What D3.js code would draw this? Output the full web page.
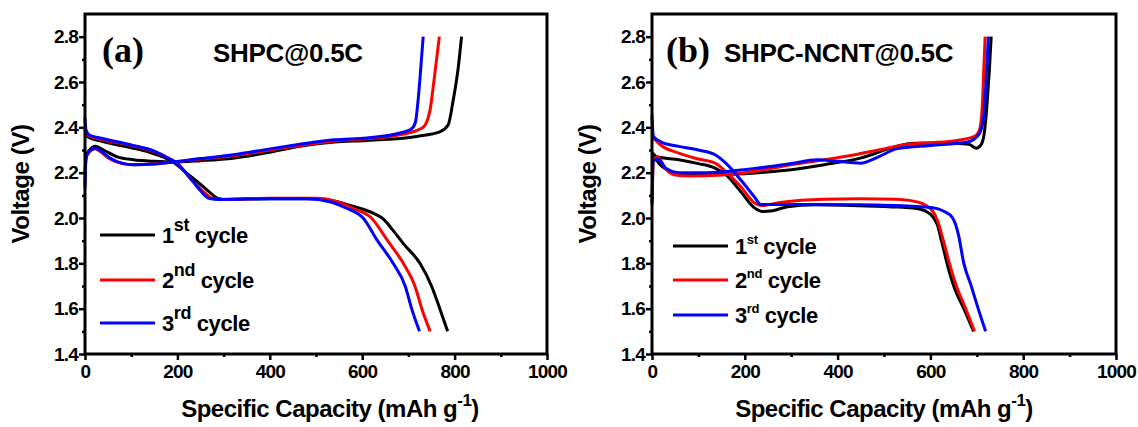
<!DOCTYPE html>
<html>
<head>
<meta charset="utf-8">
<script src="https://cdn.jsdelivr.net/npm/d3@7"></script>
<style>
  body { margin: 0; background: #fff; }
  svg { display: block; font-family: "Liberation Sans", Arial, sans-serif; font-weight: bold; }
</style>
</head>
<body>
<div id="chart"></div>
<script>
// axis ticks
var capTicks = [0, 200, 400, 600, 800, 1000];
var capMinor = [100, 300, 500, 700, 900];
var voltTicks = [1.4, 1.6, 1.8, 2.0, 2.2, 2.4, 2.6, 2.8];
var voltMinor = [1.5, 1.7, 1.9, 2.1, 2.3, 2.5, 2.7];

// legend
var cycleNums = ['1', '2', '3'];
var cycleSups = ['st', 'nd', 'rd'];
var cycleColors = ['#000000', '#ff0000', '#0000ff'];

// panel (a) SHPC, [capacity mAh/g, voltage V]
var aDis1 = [[0,2.39],[5,2.36],[33,2.34],[100,2.31],[141,2.289],[191,2.247],[220,2.198],[249,2.15],[270,2.113],[285,2.089],[300,2.082],[400,2.085],[500,2.085],[540,2.075],[570,2.058],[600,2.04],[625,2.02],[646,1.995],[665,1.95],[690,1.885],[725,1.8],[750,1.7],[768,1.6],[785,1.5]];
var aDis2 = [[0,2.39],[5,2.365],[40,2.345],[100,2.32],[150,2.293],[175,2.27],[200,2.24],[230,2.17],[260,2.11],[275,2.087],[300,2.082],[400,2.087],[500,2.087],[545,2.072],[580,2.043],[620,2.0],[655,1.9],[689,1.8],[714,1.7],[729,1.6],[747,1.5]];
var aDis3 = [[0,2.44],[2,2.39],[10,2.365],[40,2.35],[100,2.322],[150,2.295],[175,2.27],[200,2.24],[230,2.17],[250,2.12],[268,2.087],[290,2.082],[400,2.085],[480,2.085],[530,2.072],[566,2.043],[602,2.0],[633,1.9],[667,1.8],[693,1.7],[707,1.6],[724,1.5]];
var aChg1 = [[0,2.2],[3,2.28],[10,2.3],[22,2.316],[40,2.3],[70,2.27],[105,2.257],[150,2.25],[191,2.247],[250,2.253],[321,2.264],[400,2.29],[465,2.316],[540,2.335],[610,2.342],[718,2.36],[768,2.38],[786,2.41],[797,2.52],[808,2.665],[815,2.8]];
var aChg2 = [[0,2.15],[2,2.26],[8,2.29],[22,2.305],[35,2.29],[54,2.26],[80,2.24],[105,2.235],[150,2.238],[191,2.247],[250,2.26],[321,2.275],[400,2.3],[465,2.32],[540,2.34],[610,2.35],[690,2.37],[732,2.40],[747,2.478],[755,2.6],[761,2.7],[767,2.8]];
var aChg3 = [[0,2.13],[2,2.26],[8,2.29],[22,2.308],[35,2.295],[54,2.265],[80,2.242],[105,2.235],[150,2.238],[191,2.247],[250,2.262],[321,2.279],[400,2.305],[465,2.325],[540,2.345],[610,2.353],[682,2.375],[705,2.39],[715,2.42],[721,2.52],[726,2.64],[732,2.8]];

// panel (b) SHPC-NCNT
var bDis1 = [[0,2.29],[10,2.27],[58,2.257],[100,2.24],[136,2.22],[159,2.191],[191,2.117],[222,2.043],[238,2.029],[260,2.032],[292,2.05],[350,2.058],[449,2.054],[530,2.048],[566,2.043],[590,2.03],[605,2.006],[615,1.97],[625,1.89],[641,1.76],[652,1.69],[672,1.6],[693,1.5]];
var bDis2 = [[0,2.36],[20,2.32],[58,2.286],[100,2.26],[136,2.242],[159,2.205],[191,2.139],[222,2.065],[235,2.055],[280,2.07],[371,2.083],[450,2.085],[527,2.083],[574,2.07],[605,2.03],[615,1.99],[628,1.9],[641,1.8],[656,1.7],[676,1.6],[695,1.5]];
var bDis3 = [[0,2.455],[3,2.36],[20,2.335],[58,2.316],[100,2.3],[136,2.279],[159,2.242],[191,2.169],[222,2.09],[234,2.06],[300,2.06],[449,2.058],[560,2.052],[605,2.045],[629,2.03],[648,2.0],[660,1.93],[672,1.8],[688,1.7],[703,1.6],[719,1.5]];
var bChg1 = [[0,2.25],[5,2.27],[15,2.24],[35,2.21],[60,2.195],[100,2.19],[200,2.195],[260,2.205],[300,2.213],[371,2.235],[449,2.264],[527,2.316],[566,2.33],[644,2.33],[683,2.325],[699,2.308],[708,2.32],[715,2.36],[722,2.5],[727,2.65],[731,2.8]];
var bChg2 = [[0,2.06],[3,2.25],[12,2.27],[30,2.215],[50,2.19],[80,2.185],[150,2.19],[200,2.2],[300,2.235],[418,2.272],[500,2.305],[550,2.325],[650,2.34],[695,2.36],[706,2.39],[712,2.5],[715,2.65],[718,2.8]];
var bChg3 = [[0,2.07],[3,2.25],[12,2.26],[30,2.22],[60,2.2],[120,2.2],[198,2.213],[300,2.24],[356,2.257],[400,2.25],[449,2.242],[488,2.27],[527,2.305],[600,2.32],[680,2.335],[705,2.37],[715,2.45],[720,2.6],[725,2.8]];

var svg = d3.select('#chart').append('svg')
    .attr('width', 1138)
    .attr('height', 427);

function drawPanel(p) {
    var x = d3.scaleLinear().domain([0, 1000]).range([p.left, p.right]);
    var y = d3.scaleLinear().domain([1.4, 2.9]).range([354, 14]);
    var g = svg.append('g');

    // curves, black first so blue ends on top
    var line = d3.line()
        .x(function (d) { return x(d[0]); })
        .y(function (d) { return y(d[1]); })
        .curve(d3.curveMonotoneX);
    p.series.forEach(function (s, i) {
        [s.dis, s.chg].forEach(function (arr) {
            g.append('path')
                .datum(arr)
                .attr('d', line)
                .attr('fill', 'none')
                .attr('stroke', cycleColors[i])
                .attr('stroke-width', 3)
                .attr('stroke-linejoin', 'round');
        });
    });

    // minor ticks
    g.append('g').attr('transform', 'translate(0,354)')
        .call(d3.axisBottom(x).tickValues(capMinor).tickSize(3).tickFormat(''))
        .call(function (a) { a.select('.domain').remove(); a.selectAll('line').attr('stroke-width', 2.5); });
    g.append('g').attr('transform', 'translate(' + p.left + ',0)')
        .call(d3.axisLeft(y).tickValues(voltMinor).tickSize(3).tickFormat(''))
        .call(function (a) { a.select('.domain').remove(); a.selectAll('line').attr('stroke-width', 2.5); });

    // major ticks
    var xa = g.append('g').attr('transform', 'translate(0,354)')
        .call(d3.axisBottom(x).tickValues(capTicks).tickSize(6).tickPadding(5).tickFormat(d3.format('d')));
    var ya = g.append('g').attr('transform', 'translate(' + p.left + ',0)')
        .call(d3.axisLeft(y).tickValues(voltTicks).tickSize(6).tickPadding(1).tickFormat(d3.format('.1f')));
    [xa, ya].forEach(function (a) {
        a.select('.domain').remove();
        a.selectAll('line').attr('stroke-width', 2.5);
        a.selectAll('text')
            .attr('fill', '#000')
            .style('font-family', '"Liberation Sans", Arial, sans-serif')
            .style('font-weight', 'bold')
            .style('font-size', '19px')
            .style('letter-spacing', '-0.8px');
    });

    // frame
    g.append('rect')
        .attr('x', p.left).attr('y', 14)
        .attr('width', p.right - p.left).attr('height', 340)
        .attr('fill', 'none')
        .attr('stroke', '#000')
        .attr('stroke-width', 3);

    // axis titles
    g.append('text')
        .attr('transform', 'translate(' + (p.left - 56) + ',184) rotate(-90)')
        .attr('text-anchor', 'middle')
        .style('font-size', '24px')
        .style('letter-spacing', '-0.4px')
        .text('Voltage (V)');
    var xt = g.append('text')
        .attr('x', p.xTitleX).attr('y', 417)
        .attr('text-anchor', 'middle')
        .style('font-size', '24px')
        .style('letter-spacing', '-0.5px');
    xt.append('tspan').text('Specific Capacity (mAh g');
    xt.append('tspan').attr('dy', -11).style('font-size', '17px').text('-1');
    xt.append('tspan').attr('dy', 11).text(')');

    // panel tag and title
    g.append('text')
        .attr('x', p.tagX).attr('y', 62)
        .style('font-family', '"Liberation Serif", "Times New Roman", serif')
        .style('font-size', '36px')
        .text(p.tag);
    g.append('text')
        .attr('x', p.titleX).attr('y', 62)
        .style('font-size', '26px')
        .style('letter-spacing', '-0.3px')
        .text(p.title);

    // legend
    p.series.forEach(function (s, i) {
        var ly = p.legY[i];
        g.append('line')
            .attr('x1', p.legX).attr('x2', p.legX + 55)
            .attr('y1', ly).attr('y2', ly)
            .attr('stroke', cycleColors[i])
            .attr('stroke-width', 3);
        var t = g.append('text')
            .attr('x', p.legX + 62).attr('y', ly + 8)
            .style('font-size', '22px')
            .style('letter-spacing', '-0.4px');
        t.append('tspan').text(cycleNums[i]);
        t.append('tspan').attr('dy', -p.supRise).style('font-size', p.supSize + 'px').text(cycleSups[i]);
        t.append('tspan').attr('dy', p.supRise).text(' cycle');
    });
}

drawPanel({
    left: 85, right: 547, xTitleX: 330,
    tag: '(a)', tagX: 102, title: 'SHPC@0.5C', titleX: 213,
    legX: 100, legY: [235, 280, 323], supSize: 18, supRise: 12,
    series: [
        { dis: aDis1, chg: aChg1 },
        { dis: aDis2, chg: aChg2 },
        { dis: aDis3, chg: aChg3 }
    ]
});

drawPanel({
    left: 652, right: 1116, xTitleX: 884,
    tag: '(b)', tagX: 666, title: 'SHPC-NCNT@0.5C', titleX: 724,
    legX: 673, legY: [246, 280, 315], supSize: 13, supRise: 10,
    series: [
        { dis: bDis1, chg: bChg1 },
        { dis: bDis2, chg: bChg2 },
        { dis: bDis3, chg: bChg3 }
    ]
});
</script>
</body>
</html>
